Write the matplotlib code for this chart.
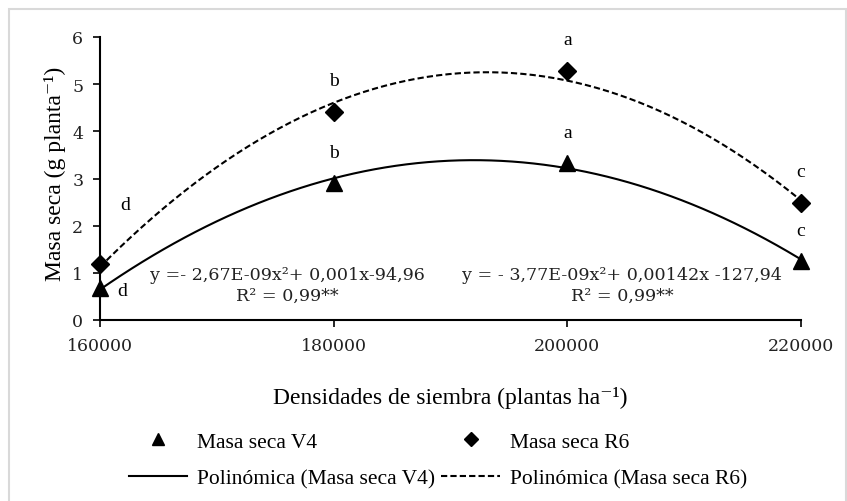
import numpy as np
import matplotlib
matplotlib.use("Agg")
import matplotlib.pyplot as plt
from matplotlib.patches import Rectangle

densidades = [160000, 180000, 200000, 220000]
masa_v4 = [0.68, 2.9, 3.32, 1.25]
masa_r6 = [1.19, 4.41, 5.27, 2.47]
letras_v4 = ["d", "b", "a", "c"]
letras_r6 = ["d", "b", "a", "c"]
eq_v4 = "y =- 2,67E-09x²+ 0,001x-94,96\nR² = 0,99**"
eq_r6 = "y = - 3,77E-09x²+ 0,00142x -127,94\nR² = 0,99**"

serif = ["Liberation Serif", "DejaVu Serif"]
num_font = "DejaVu Serif"

fig = plt.figure(figsize=(8.47, 5.02), dpi=100)
fig.patches.append(Rectangle((9 / 847, -0.01), 837 / 847, 1 - 10 / 502 + 0.01,
                             transform=fig.transFigure, fill=False,
                             edgecolor="#d9d9d9", linewidth=1.5))
ax = fig.add_axes([100 / 847, 1 - 321 / 502, 701 / 847, 283 / 502])

# polynomial trend lines (2nd degree) fitted to the points
xs = np.linspace(160000, 220000, 200)
fit_v4 = np.polyfit(densidades, masa_v4, 2)
fit_r6 = np.polyfit(densidades, masa_r6, 2)

ax.plot(densidades, masa_v4, linestyle="none", marker="^", markersize=11,
        color="black", label="Masa seca V4", zorder=3)
ax.plot(xs, np.polyval(fit_v4, xs), color="black", linewidth=1.5,
        label="Polinómica (Masa seca V4)")
ax.plot(densidades, masa_r6, linestyle="none", marker="D", markersize=9,
        color="black", label="Masa seca R6", zorder=3)
ax.plot(xs, np.polyval(fit_r6, xs), color="black", linewidth=1.5,
        linestyle=(0, (3, 1.5)), label="Polinómica (Masa seca R6)")

for i, (x, y) in enumerate(zip(densidades, masa_v4)):
    off = (16, -2) if i == 0 else (0, 22)
    ax.annotate(letras_v4[i], (x, y), xytext=off, textcoords="offset points",
                ha="center", va="center", fontsize=14, family=serif)
for i, (x, y) in enumerate(zip(densidades, masa_r6)):
    off = (18, 43) if i == 0 else (0, 23)
    ax.annotate(letras_r6[i], (x, y), xytext=off, textcoords="offset points",
                ha="center", va="center", fontsize=14, family=serif)

ax.text(0.267, 0.124, eq_v4, transform=ax.transAxes, ha="center", va="center",
        fontsize=12.6, family=num_font, color="#222222", linespacing=1.35)
ax.text(0.745, 0.124, eq_r6, transform=ax.transAxes, ha="center", va="center",
        fontsize=12.6, family=num_font, color="#222222", linespacing=1.35)

ax.set_xlim(160000, 220000)
ax.set_ylim(0, 6)
ax.set_xticks(densidades)
ax.set_yticks(range(0, 7))
for s in ["top", "right"]:
    ax.spines[s].set_visible(False)
for s in ["left", "bottom"]:
    ax.spines[s].set_linewidth(1.5)
ax.tick_params(direction="out", length=5, width=1.2, pad=7, labelsize=12.5)
for lab in ax.get_xticklabels() + ax.get_yticklabels():
    lab.set_family(num_font)
    lab.set_color("#222222")
ax.margins(0)
for ln in ax.lines:
    ln.set_clip_on(False)

ax.set_xlabel("Densidades de siembra (plantas ha⁻¹)", fontsize=17, family=serif)
ax.set_ylabel("Masa seca (g planta⁻¹)", fontsize=17, family=serif)
ax.xaxis.set_label_coords(0.5, (321 - 398) / 283)
ax.xaxis.label.set_va("center")
ax.yaxis.set_label_coords(-45 / 701, 0.52)
ax.yaxis.label.set_va("center")

handles, labels = ax.get_legend_handles_labels()
leg = fig.legend(handles, labels,
                 loc="center", bbox_to_anchor=(438 / 847, 1 - 461 / 502),
                 ncol=2, frameon=False, prop={"family": serif, "size": 15.5},
                 handlelength=2.7, handletextpad=0.47, columnspacing=0.28,
                 labelspacing=0.75, markerscale=0.75)

fig.savefig("out.png", dpi=100)
